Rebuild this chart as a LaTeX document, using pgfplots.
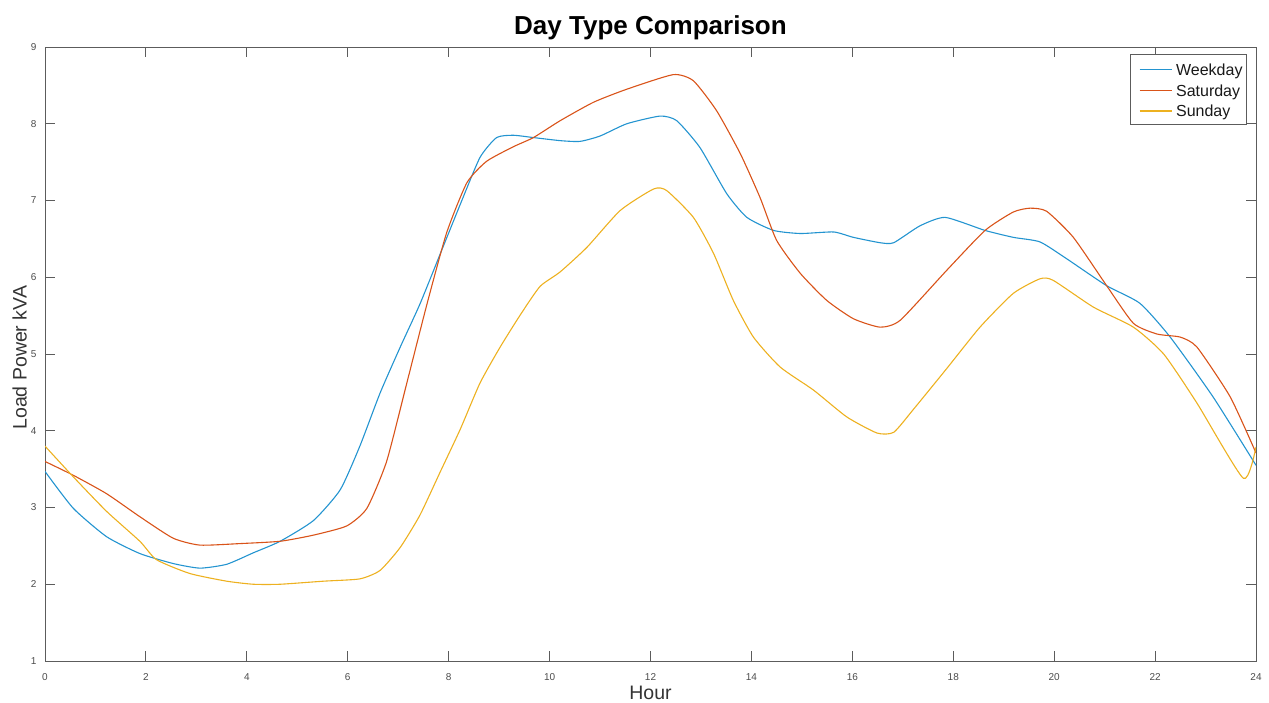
\documentclass[border=0pt]{standalone}
\usepackage{fontspec}
\setmainfont{Liberation Sans}
\usepackage{pgfplots}
\pgfplotsset{compat=1.18}
\usepackage{pgfplotstable}
\definecolor{mblue}{RGB}{35,148,208}
\definecolor{morange}{rgb}{0.85,0.325,0.098}
\definecolor{myellow}{rgb}{0.929,0.694,0.125}
\definecolor{axgray}{gray}{0.36}

\pgfplotstableread{
x y
0 3.47
0.56 2.99
1.22 2.62
1.88 2.40
2.54 2.27
3.07 2.21
3.6 2.26
4.13 2.41
4.66 2.56
5.32 2.83
5.85 3.23
6.24 3.80
6.64 4.49
7.04 5.09
7.43 5.65
7.83 6.30
8.23 6.95
8.62 7.56
8.95 7.82
9.28 7.85
9.68 7.82
10.21 7.78
10.6 7.77
11.0 7.84
11.53 8.00
12.19 8.10
12.52 8.04
12.98 7.69
13.51 7.09
13.91 6.78
14.44 6.61
14.97 6.57
15.63 6.59
16.02 6.52
16.55 6.45
16.82 6.45
17.34 6.67
17.84 6.78
18.63 6.61
19.19 6.52
19.72 6.46
20.25 6.24
21.04 5.89
21.7 5.66
22.3 5.22
23.15 4.44
24 3.55
}\weekday

\pgfplotstableread{
x y
0 3.60
0.56 3.42
1.22 3.18
1.88 2.88
2.54 2.60
3.07 2.51
3.87 2.53
4.66 2.56
5.32 2.64
5.98 2.76
6.38 2.99
6.77 3.60
7.17 4.62
7.57 5.65
7.96 6.58
8.36 7.23
8.75 7.51
9.28 7.70
9.68 7.82
10.21 8.04
10.87 8.28
11.53 8.45
12.45 8.64
12.85 8.56
13.31 8.17
13.78 7.61
14.17 7.04
14.5 6.48
14.97 6.05
15.49 5.70
16.02 5.46
16.55 5.35
16.95 5.44
17.87 6.09
18.63 6.61
19.19 6.85
19.52 6.90
19.85 6.86
20.38 6.52
21.04 5.89
21.57 5.40
22.04 5.26
22.5 5.22
22.83 5.09
23.49 4.44
24 3.71
}\saturday

\pgfplotstableread{
x y
0 3.80
0.56 3.40
1.22 2.95
1.88 2.56
2.21 2.32
2.87 2.14
3.6 2.04
4.13 2.00
4.66 2.00
5.52 2.04
6.24 2.07
6.64 2.18
7.04 2.48
7.43 2.90
7.83 3.46
8.23 4.02
8.62 4.62
9.02 5.09
9.42 5.51
9.81 5.88
10.21 6.07
10.74 6.39
11.4 6.87
12.06 7.15
12.32 7.13
12.85 6.78
13.25 6.31
13.64 5.70
14.04 5.22
14.57 4.83
15.23 4.53
15.89 4.18
16.49 3.97
16.82 3.98
17.2 4.27
17.87 4.81
18.53 5.35
19.19 5.79
19.72 5.98
19.98 5.96
20.78 5.61
21.57 5.35
22.17 5.00
22.83 4.36
23.75 3.38
24 3.79
}\sunday

\begin{document}
\begin{tikzpicture}
\begin{axis}[
  name=ax,
  at={(0,0)}, anchor=south west,
  scale only axis,
  width=605.5pt, height=307pt,
  xmin=0, xmax=24, ymin=1, ymax=9,
  xtick={0,2,...,24}, ytick={1,2,...,9},
  tick align=inside, tick pos=both,
  major tick length=5pt,
  axis line style={axgray, line width=0.5pt},
  every tick/.style={axgray, line width=0.5pt},
  /pgf/number format/assume math mode=true,
  ticklabel style={font=\fontsize{5}{6}\selectfont, text=black!70},
  xticklabel style={yshift=-2.8pt},
  yticklabel style={xshift=-0.8pt},
  every axis title shift=0pt,
  title={Day Type Comparison},
  title style={font=\bfseries\fontsize{13}{15}\selectfont, at={(axis description cs:0.5,1.0207)}, anchor=base},
  xlabel={Hour},
  xlabel style={font=\fontsize{9.75}{12}\selectfont, text=black!80, at={(axis description cs:0.5,-0.0635)}, anchor=base},
  ylabel={Load Power kVA},
  ylabel style={font=\fontsize{9.75}{12}\selectfont, text=black!80, at={(axis description cs:-0.0151,0.494)}, anchor=base, rotate=0},
  legend style={at={(axis description cs:1,1)}, anchor=north east, xshift=-4.5pt, yshift=-3.5pt,
    draw=axgray, line width=0.5pt, font=\fontsize{8}{10}\selectfont, text=black!90,
    inner xsep=2pt, inner ysep=3.5pt, row sep=3pt, column sep=2pt,
    nodes={inner sep=0pt, text height=7pt, text depth=0pt, anchor=base west}},
]
\addplot[mblue, line width=0.55pt, smooth, tension=0.35,
  legend image code/.code={\path (0pt,0pt); \draw[draw=mblue, line width=0.6pt] (2pt,2.85pt) -- (18pt,2.85pt);}] table {\weekday};
\addlegendentry{Weekday}
\addplot[morange, line width=0.55pt, smooth, tension=0.35,
  legend image code/.code={\path (0pt,0pt); \draw[draw=morange, line width=0.6pt] (2pt,2.85pt) -- (18pt,2.85pt);}] table {\saturday};
\addlegendentry{Saturday}
\addplot[myellow, line width=0.55pt, smooth, tension=0.35,
  legend image code/.code={\path (0pt,0pt); \draw[draw=myellow, line width=0.6pt] (2pt,2.85pt) -- (18pt,2.85pt);}] table {\sunday};
\addlegendentry{Sunday}
\end{axis}
\pgfresetboundingbox
\useasboundingbox (-22.5pt,-20.5pt) rectangle (612pt,330.5pt);
\end{tikzpicture}
\end{document}
